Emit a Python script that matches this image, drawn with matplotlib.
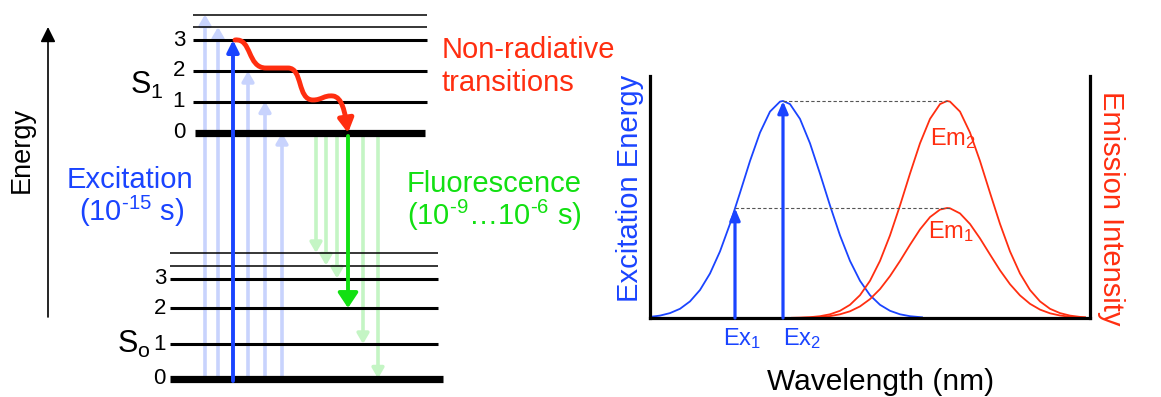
import matplotlib.pyplot as plt
from matplotlib.path import Path
from matplotlib.patches import FancyArrowPatch

plt.rcParams['font.family'] = ['Liberation Sans', 'DejaVu Sans']
plt.rcParams['mathtext.fontset'] = 'custom'
plt.rcParams['mathtext.rm'] = 'Liberation Sans'
plt.rcParams['mathtext.default'] = 'regular'

BLUE = '#1a44ff'
LBLUE = '#c8d3fd'
RED = '#ff2e10'
GREEN = '#12e012'
LGREEN = '#c4f5c4'

# ---- Jablonski diagram (pixel layout of the figure) ----
s1_levels = [133, 101.5, 71, 40]        # vibrational levels 0..3 of S1
s1_upper = [27, 14.5]                   # higher (unlabelled) levels
s0_levels = [378.5, 344, 308, 278.5]    # vibrational levels 0..3 of S0
s0_upper = [265.5, 253]
level_labels = ['0', '1', '2', '3']

exc_x = [205, 218, 248, 265, 282]       # faint excitation arrows
exc_top = [14.5, 27, 71, 101.5, 133]
main_exc_x, main_exc_top = 233, 40

fl_x = [316, 326, 337, 363, 378]        # faint fluorescence arrows
fl_bottom = [253, 265.5, 278.5, 344, 378.5]
main_fl_x, main_fl_bottom = 348, 308

# ---- spectra (wavelength axis 0..440, intensity 0..242) ----
ex_wl = [0, 10, 20, 30, 40, 50, 60, 70, 80, 90, 100, 110, 120, 130, 133, 140,
         150, 160, 170, 180, 190, 200, 210, 220, 230, 240, 250, 260, 272]
ex_int = [1.1, 2.4, 4.9, 9.2, 16.6, 28.0, 44.5, 66.6, 94.1, 125.2, 157.0, 185.4,
          206.4, 216.4, 217, 213.9, 199.1, 174.7, 144.3, 112.5, 82.6, 57.1, 37.2,
          22.8, 13.2, 7.2, 3.7, 1.8, 0.7]
em_wl = [142, 150, 160, 170, 180, 190, 200, 210, 220, 230, 240, 250, 260, 270, 280,
         290, 297, 300, 310, 320, 330, 340, 350, 360, 370, 380, 390, 400, 410, 420,
         430, 435]
em2_int = [0.2, 0.35, 0.8, 1.8, 3.7, 7.2, 13.2, 22.8, 37.2, 57.1, 82.6, 112.5, 144.4,
           174.7, 199.1, 213.9, 217, 216.4, 206.4, 185.4, 157.0, 125.2, 94.1, 66.6,
           44.5, 28.0, 16.6, 9.2, 4.9, 2.4, 1.1, 0.7]
em1_int = [0.1, 0.18, 0.4, 0.9, 1.9, 3.7, 6.7, 11.6, 18.9, 28.9, 41.9, 57.0, 73.2,
           88.6, 100.9, 108.4, 110, 109.7, 104.6, 94.0, 79.6, 63.5, 47.7, 33.8, 22.6,
           14.2, 8.4, 4.7, 2.5, 1.2, 0.56, 0.35]
ex_wavelengths = [85, 133]
ex_heights = [110, 217]

fig = plt.figure(figsize=(11.61, 3.97), dpi=100)

ax2 = fig.add_axes([650 / 1161, 1 - 318 / 397, 440 / 1161, 242 / 397])
ax2.set_xlim(0, 440)
ax2.set_ylim(0, 242)
ax2.set_xticks([])
ax2.set_yticks([])
ax2.spines['top'].set_visible(False)
for s in ['left', 'bottom', 'right']:
    ax2.spines[s].set_linewidth(2.3)
ax2.plot(ex_wl, ex_int, color=BLUE, lw=1.3, clip_on=False)
ax2.plot(em_wl, em2_int, color=RED, lw=1.3, clip_on=False)
ax2.plot(em_wl, em1_int, color=RED, lw=1.3, clip_on=False)
ax2.plot([ex_wavelengths[1], em_wl[16]], [ex_heights[1], em2_int[16]],
         color='#555555', lw=0.8, ls=(0, (3, 2)))
ax2.plot([ex_wavelengths[0], em_wl[17]], [ex_heights[0], em1_int[16]],
         color='#555555', lw=0.8, ls=(0, (3, 2)))
for x, h in zip(ex_wavelengths, ex_heights):
    ax2.annotate('', xy=(x, h), xytext=(x, 0),
                 arrowprops=dict(arrowstyle='-|>,head_length=0.7,head_width=0.3',
                                 lw=2.3, color=BLUE, shrinkA=0, shrinkB=0))

ax = fig.add_axes([0, 0, 1, 1])
ax.set_xlim(0, 1161)
ax.set_ylim(397, 0)
ax.axis('off')
ax.patch.set_visible(False)

# levels
ax.hlines(s1_levels[1:], 193, 427, color='black', lw=2.2, zorder=3)
ax.hlines(s1_levels[0], 195, 425, color='black', lw=5.2, zorder=3)
ax.hlines(s1_upper, 193, 427, color='black', lw=1.1, zorder=3)
ax.hlines(s0_levels[1:], 170, 438, color='black', lw=2.2, zorder=3)
ax.hlines(s0_levels[0], 170, 443, color='black', lw=5.2, zorder=3)
ax.hlines(s0_upper, 170, 438, color='black', lw=1.1, zorder=3)
for y, lab in zip(s1_levels, level_labels):
    ax.text(185, y, lab, ha='right', va='center', fontsize=16)
for y, lab in zip(s0_levels, level_labels):
    ax.text(166, y, lab, ha='right', va='center', fontsize=16)

ax.text(130, 94, 'S$_1$', fontsize=22, va='baseline')
ax.text(117, 353, 'S$_o$', fontsize=22, va='baseline')

# energy axis
ax.annotate('', xy=(48, 27), xytext=(48, 317),
            arrowprops=dict(arrowstyle='-|>,head_length=0.9,head_width=0.45',
                            lw=1.2, color='black', shrinkA=0, shrinkB=0))
ax.text(22, 150, 'Energy', rotation=90, ha='center', va='center', fontsize=19.5)

# excitation arrows
for x, top in zip(exc_x, exc_top):
    ax.annotate('', xy=(x, top), xytext=(x, 381),
                arrowprops=dict(arrowstyle='-|>,head_length=0.6,head_width=0.35',
                                lw=2.6, color=LBLUE, shrinkA=0, shrinkB=0), zorder=1)
ax.annotate('', xy=(main_exc_x, main_exc_top), xytext=(main_exc_x, 381),
            arrowprops=dict(arrowstyle='-|>,head_length=0.7,head_width=0.35',
                            lw=2.8, color=BLUE, shrinkA=0, shrinkB=0), zorder=4)

# fluorescence arrows
for x, bot in zip(fl_x, fl_bottom):
    ax.annotate('', xy=(x, bot), xytext=(x, 136),
                arrowprops=dict(arrowstyle='-|>,head_length=0.6,head_width=0.35',
                                lw=2.6, color=LGREEN, shrinkA=0, shrinkB=0), zorder=1)
ax.annotate('', xy=(main_fl_x, main_fl_bottom), xytext=(main_fl_x, 136),
            arrowprops=dict(arrowstyle='-|>,head_length=0.9,head_width=0.6',
                            lw=2.8, color=GREEN, shrinkA=0, shrinkB=0), zorder=4)

# non-radiative wavy path
verts = [(235, 40), (252, 38), (247, 68), (266, 68),
         (288, 68),
         (303, 68), (297, 100), (313, 100),
         (322, 100), (324, 95), (333, 96),
         (342, 97), (345, 112), (348, 133)]
codes = [Path.MOVETO, Path.CURVE4, Path.CURVE4, Path.CURVE4,
         Path.LINETO,
         Path.CURVE4, Path.CURVE4, Path.CURVE4,
         Path.CURVE4, Path.CURVE4, Path.CURVE4,
         Path.CURVE4, Path.CURVE4, Path.CURVE4]
wave = FancyArrowPatch(path=Path(verts, codes),
                       arrowstyle='-|>,head_length=8,head_width=4.5',
                       lw=3.5, color=RED, zorder=5)
ax.add_patch(wave)

# captions
ax.text(130, 188, 'Excitation', color=BLUE, fontsize=21, ha='center', va='baseline')
ax.text(132, 221, r'(10$^{\text{-15}}$ s)', color=BLUE, fontsize=21, ha='center',
        va='baseline')
ax.text(407, 192, 'Fluorescence', color=GREEN, fontsize=21, va='baseline')
ax.text(407, 225, r'(10$^{\text{-9}}$…10$^{\text{-6}}$ s)', color=GREEN, fontsize=21,
        va='baseline')
ax.text(442, 58, 'Non-radiative', color=RED, fontsize=21, va='baseline')
ax.text(442, 91, 'transitions', color=RED, fontsize=21, va='baseline')

ax.text(723, 345, 'Ex$_1$', color=BLUE, fontsize=17, va='baseline')
ax.text(783, 345, 'Ex$_2$', color=BLUE, fontsize=17, va='baseline')
ax.text(930, 145, 'Em$_2$', color=RED, fontsize=17, va='baseline')
ax.text(928, 238, 'Em$_1$', color=RED, fontsize=17, va='baseline')

ax.text(881, 390, 'Wavelength (nm)', fontsize=21.5, ha='center', va='baseline')
ax.text(630, 188, 'Excitation Energy', color=BLUE, fontsize=21, rotation=90,
        ha='center', va='center')
ax.text(1111, 208, 'Emission Intensity', color=RED, fontsize=21, rotation=-90,
        ha='center', va='center')

fig.savefig('out.png', dpi=100)
